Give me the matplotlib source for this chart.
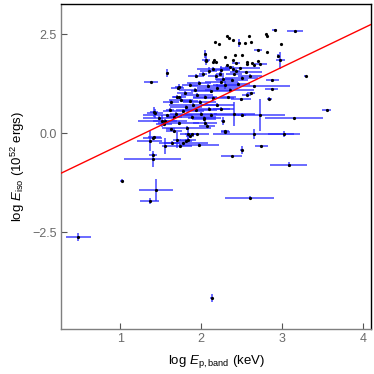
import matplotlib
matplotlib.use("Agg")
import matplotlib.pyplot as plt
import numpy as np

plt.rcParams['font.family'] = ['Liberation Sans', 'DejaVu Sans']
plt.rcParams['mathtext.fontset'] = 'custom'
plt.rcParams['mathtext.rm'] = 'Liberation Sans'
plt.rcParams['mathtext.it'] = 'Liberation Sans:italic'

# log Ep,band, log Eiso, x error, y error
log_ep = [
    0.48, 1.02, 1.44, 1.36, 2.13, 2.60, 3.08, 2.74, 2.50, 2.38, 1.40, 1.40, 1.36, 1.42, 1.55, 1.64,
    1.70, 1.74, 1.78, 1.81, 1.84, 1.86, 1.88, 1.97, 1.95, 1.66, 2.29, 2.65, 3.02, 1.84, 1.62, 1.40,
    2.30,
    1.43, 1.61, 1.66, 1.52, 1.54, 1.69, 1.63, 1.70, 1.75, 1.81, 1.86, 1.94, 2.00, 2.03, 2.07, 2.25,
    2.27, 2.41, 2.50, 2.73, 3.15, 3.55, 2.84, 2.87, 2.88, 3.29, 2.62, 2.56, 2.49, 2.33, 2.65, 2.04,
    2.05, 1.48, 1.55, 1.41, 1.58, 1.78, 1.90, 1.98, 2.10, 2.15, 2.20, 2.12, 1.72, 1.88, 1.82,
    1.38, 1.58, 1.73, 1.73, 1.71, 1.86, 1.92, 1.97, 2.02, 1.94, 2.09, 2.18, 2.23, 2.27, 2.06, 2.15,
    2.32, 2.35, 2.39, 2.43, 2.41, 2.57, 2.65, 2.08, 2.12, 2.20, 2.25, 2.30, 2.35, 2.38, 2.45, 2.50,
    2.55, 2.60, 2.48, 2.15, 2.25, 1.80, 1.95, 2.05,
    2.91, 3.16, 2.80, 2.81, 2.32, 2.34, 2.59, 2.39, 2.61, 2.47, 2.54, 2.17, 2.22, 2.99, 2.70, 2.81,
    2.05, 2.42, 2.50, 2.30, 2.95, 2.98, 2.06, 2.16, 2.18, 2.39, 2.43, 2.56, 2.63, 2.70, 2.73,
]
log_eiso = [
    -2.62, -1.20, -1.44, -1.71, -4.17, -1.63, -0.80, -0.33, -0.42, -0.59, -0.65, -0.56, -0.20, -0.10, -0.33, -0.24,
    -0.18, -0.33, -0.25, -0.20, -0.17, -0.08, -0.03, -0.31, -0.03, 0.04, 0.04, -0.02, -0.02, -0.02, 0.09, -0.12,
    0.03,
    0.50, 0.59, 0.41, 0.30, 0.22, 0.49, 0.78, 0.91, 0.84, 0.67, 0.82, 0.59, 0.49, 0.36, 0.19, 0.61,
    0.30, 0.49, 0.46, 0.46, 0.38, 0.59, 0.87, 1.12, 1.33, 1.43, 1.01, 0.97, 0.85, 0.91, 1.18, 0.38,
    0.25, 0.39, 0.30, 0.53, 0.45, 0.55, 0.71, 0.78, 0.62, 0.88, 0.70, 0.45, 0.25, 0.40, 0.12,
    1.30, 1.51, 1.16, 0.91, 1.14, 1.22, 1.10, 1.26, 1.50, 1.43, 1.58, 1.45, 1.48, 1.37, 1.85, 1.79,
    1.73, 1.66, 1.62, 1.58, 1.50, 1.75, 1.72, 1.20, 1.05, 1.15, 1.30, 1.22, 1.10, 1.35, 1.25, 1.40,
    1.55, 1.45, 1.65, 1.62, 1.60, 1.00, 0.95, 0.90,
    2.61, 2.57, 2.50, 2.46, 2.45, 2.41, 2.46, 2.35, 2.31, 2.27, 2.27, 2.29, 2.24, 2.24, 2.10, 2.04,
    2.00, 1.98, 1.97, 1.93, 1.95, 1.84, 1.83, 1.85, 1.79, 1.85, 1.76, 1.79, 1.76, 1.83, 1.75,
]
err_ep = [
    0.15, 0.02, 0.21, 0.12, 0.02, 0.30, 0.23, 0.08, 0.02, 0.13, 0.35, 0.05, 0.15, 0.08, 0.04, 0.10,
    0.05, 0.15, 0.30, 0.08, 0.10, 0.05, 0.03, 0.25, 0.15, 0.10, 0.05, 0.50, 0.20, 0.10, 0.05, 0.12,
    0.06,
    0.10, 0.05, 0.10, 0.30, 0.10, 0.08, 0.10, 0.06, 0.15, 0.20, 0.10, 0.25, 0.20, 0.15, 0.10, 0.10,
    0.02, 0.25, 0.05, 0.30, 0.36, 0.06, 0.03, 0.08, 0.08, 0.02, 0.05, 0.05, 0.12, 0.10, 0.45, 0.20,
    0.15, 0.20, 0.15, 0.05, 0.30, 0.25, 0.30, 0.20, 0.30, 0.25, 0.20, 0.35, 0.25, 0.30, 0.30,
    0.09, 0.02, 0.05, 0.08, 0.08, 0.10, 0.20, 0.15, 0.05, 0.10, 0.10, 0.10, 0.05, 0.10, 0.05, 0.00,
    0.00, 0.05, 0.00, 0.05, 0.10, 0.00, 0.00, 0.20, 0.25, 0.25, 0.20, 0.15, 0.30, 0.20, 0.15, 0.20,
    0.20, 0.15, 0.25, 0.20, 0.10, 0.10, 0.20, 0.15,
    0.03, 0.10, 0.00, 0.00, 0.00, 0.00, 0.00, 0.00, 0.00, 0.02, 0.00, 0.00, 0.00, 0.00, 0.05, 0.00,
    0.02, 0.00, 0.00, 0.00, 0.00, 0.05, 0.03, 0.00, 0.00, 0.00, 0.05, 0.00, 0.00, 0.00, 0.08,
]
err_eiso = [
    0.10, 0.04, 0.27, 0.07, 0.10, 0.04, 0.06, 0.02, 0.10, 0.02, 0.20, 0.05, 0.25, 0.02, 0.20, 0.03,
    0.20, 0.05, 0.03, 0.04, 0.05, 0.05, 0.04, 0.05, 0.03, 0.03, 0.03, 0.12, 0.08, 0.15, 0.05, 0.03,
    0.03,
    0.12, 0.05, 0.05, 0.15, 0.05, 0.05, 0.05, 0.05, 0.05, 0.05, 0.05, 0.05, 0.05, 0.05, 0.03, 0.05,
    0.10, 0.30, 0.05, 0.40, 0.03, 0.02, 0.03, 0.03, 0.03, 0.02, 0.03, 0.03, 0.03, 0.03, 0.03, 0.05,
    0.05, 0.05, 0.05, 0.12, 0.03, 0.05, 0.05, 0.05, 0.05, 0.05, 0.05, 0.05, 0.05, 0.05, 0.05,
    0.02, 0.10, 0.08, 0.03, 0.05, 0.05, 0.05, 0.05, 0.05, 0.05, 0.08, 0.05, 0.05, 0.05, 0.12, 0.00,
    0.00, 0.00, 0.00, 0.05, 0.00, 0.00, 0.00, 0.05, 0.05, 0.10, 0.05, 0.10, 0.05, 0.05, 0.05, 0.03,
    0.03, 0.03, 0.03, 0.05, 0.10, 0.05, 0.05, 0.05,
    0.03, 0.04, 0.00, 0.00, 0.00, 0.00, 0.00, 0.00, 0.00, 0.10, 0.00, 0.00, 0.00, 0.00, 0.02, 0.00,
    0.10, 0.00, 0.00, 0.00, 0.05, 0.22, 0.00, 0.00, 0.00, 0.00, 0.00, 0.00, 0.00, 0.00, 0.00,
]

fit_slope = 0.98
fit_intercept = -1.275

x_ticks = [1, 2, 3, 4]
y_ticks = [-2.5, 0.0, 2.5]
x_lim = (0.265, 4.1)
y_lim = (-4.95, 3.26)

fig = plt.figure(figsize=(3.74, 3.74), dpi=100)
ax = fig.add_axes([61/374, 1-329/374, 310/374, 325/374])

ax.errorbar(log_ep, log_eiso, xerr=err_ep, yerr=err_eiso, fmt='none',
            ecolor=(0.15, 0.15, 1.0), elinewidth=1.2, alpha=0.8, capsize=0, zorder=2)
ax.plot(log_ep, log_eiso, 'o', color='black', markersize=2.3, markeredgewidth=0, zorder=3)

xl = np.array(x_lim)
ax.plot(xl, fit_slope * xl + fit_intercept, color='red', lw=1.0, zorder=4)

ax.set_xlim(*x_lim)
ax.set_ylim(*y_lim)
ax.set_xticks(x_ticks)
ax.set_xticklabels([str(t) for t in x_ticks])
ax.set_yticks(y_ticks)
ax.set_yticklabels(['\u22122.5', '0.0', '2.5'])

grey = '#7f7f7f'
ax.tick_params(direction='in', length=4, width=0.8, color='#555555', labelcolor='#6a6a6a',
               labelsize=9, pad=3)
for s in ['left', 'bottom']:
    ax.spines[s].set_color(grey)
    ax.spines[s].set_linewidth(1.0)
for s in ['top', 'right']:
    ax.spines[s].set_color('black')
    ax.spines[s].set_linewidth(1.0)

ax.set_xlabel(r'log $E_{\mathrm{p,band}}$ (keV)', fontsize=9.5, labelpad=6)
ax.set_ylabel(r'log $E_{\mathrm{iso}}$ ($10^{52}$ ergs)', fontsize=9.5, labelpad=4)

fig.savefig('out.png', dpi=100)
